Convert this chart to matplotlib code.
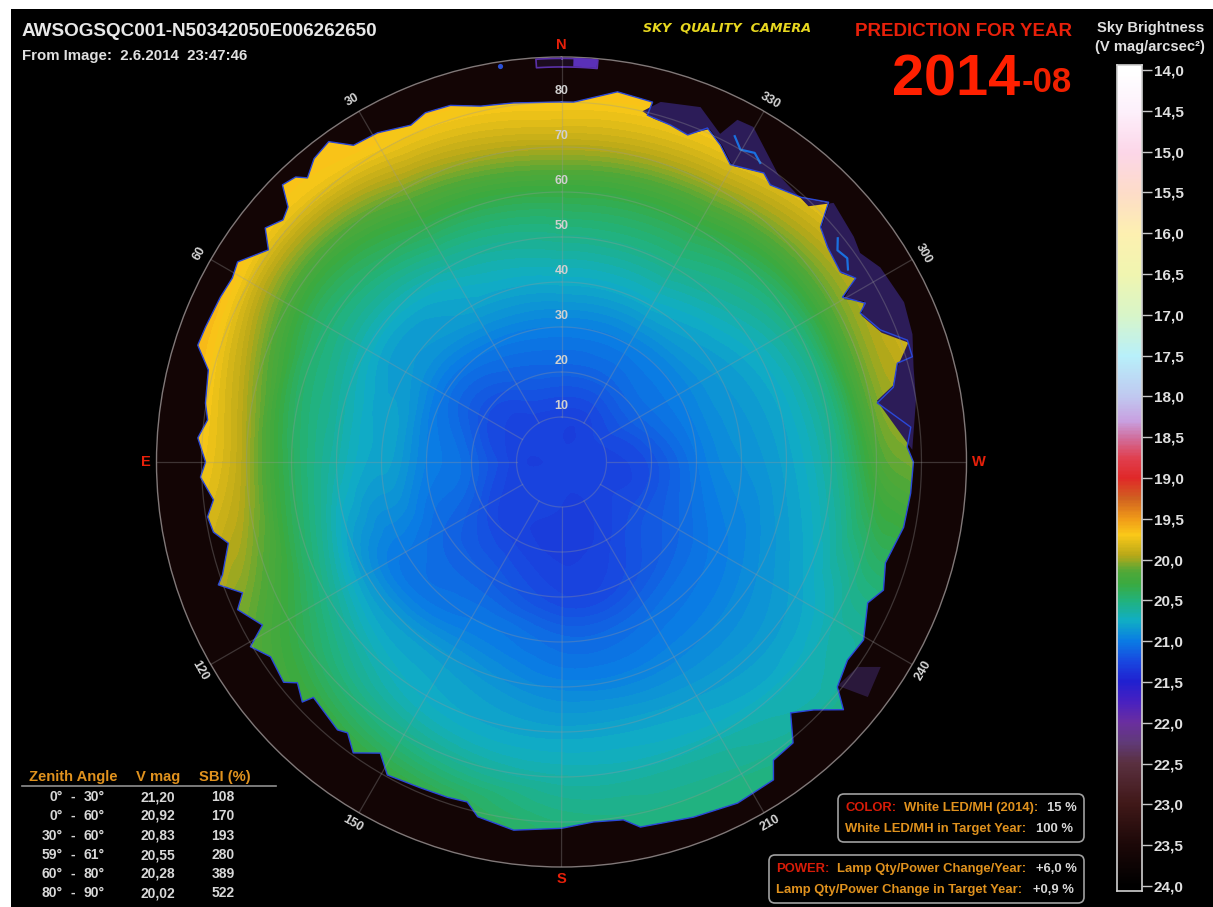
import numpy as np
import matplotlib
matplotlib.use("Agg")
import matplotlib.pyplot as plt
from matplotlib.colors import LinearSegmentedColormap, Normalize
from matplotlib.patches import FancyBboxPatch, Rectangle
from matplotlib.tri import Triangulation, UniformTriRefiner

W, H = 1213, 907
plt.rcParams['font.family'] = ['Liberation Sans', 'DejaVu Sans']
plt.rcParams['font.weight'] = 'bold'

# ---------- data ----------
TITLE = "AWSOGSQC001-N50342050E006262650"
SUBTITLE = "From Image:  2.6.2014  23:47:46"
ZENITH = [0, 10, 20, 30, 40, 50, 60, 70, 80, 90]
AZIMUTH = [-30, 0, 30, 60, 90, 120, 150, 180, 210, 240, 270, 300, 330, 360, 390]
az000 = [21.27, 21.28, 21.12, 20.98, 20.76, 20.55, 20.30, 19.95, 19.70, 19.70]
az030 = [21.27, 21.28, 21.15, 21.00, 20.80, 20.63, 20.36, 20.05, 19.74, 19.70]
az060 = [21.27, 21.28, 21.20, 21.03, 20.85, 20.70, 20.48, 20.18, 19.80, 19.72]
az090 = [21.27, 21.28, 21.10, 20.98, 20.80, 20.65, 20.40, 19.98, 19.72, 19.70]
az120 = [21.27, 21.28, 21.20, 21.10, 21.02, 20.85, 20.55, 20.30, 20.12, 20.10]
az150 = [21.27, 21.28, 21.27, 21.15, 21.02, 20.85, 20.75, 20.55, 20.28, 20.20]
az180 = [21.27, 21.30, 21.31, 21.25, 21.08, 20.95, 20.80, 20.65, 20.50, 20.45]
az210 = [21.27, 21.30, 21.27, 21.20, 21.05, 20.95, 20.82, 20.68, 20.55, 20.50]
az240 = [21.27, 21.28, 21.20, 21.10, 21.00, 20.90, 20.80, 20.65, 20.55, 20.50]
az270 = [21.27, 21.28, 21.20, 21.02, 20.90, 20.80, 20.60, 20.20, 20.05, 20.00]
az300 = [21.27, 21.25, 21.10, 20.98, 20.85, 20.72, 20.50, 20.10, 19.85, 19.75]
az330 = [21.27, 21.28, 21.12, 20.98, 20.76, 20.55, 20.33, 20.00, 19.72, 19.70]
RING_VALUE = 23.65

HORIZON_AZ = [0, 7.6, 12.8, 17.3, 21.3, 24.1, 29.2, 33.3, 36, 39.2, 41.8, 43, 45.2, 47, 49, 51.7, 54.1, 58.3,
              60.8, 64.2, 69.2, 72.2, 75.4, 80.6, 83.2, 86.2, 90, 92.4, 96.2, 98.8, 101.4, 103.7, 108.4, 109.7,
              112.3, 114.5, 118.6, 120.7, 123.8, 128.4, 129.9, 132.8, 133.5, 140.1, 141.7, 144.4, 148.1, 150.9,
              156.6, 161.2, 164.5, 166.7, 172.6, 180, 185.1, 189.8, 192.2, 200.4, 207.3, 210.1, 213.7, 215.4,
              219.5, 222.4, 225.5, 228.7, 230.8, 235.3, 239.5, 245.3, 248.3, 252.7, 259.2, 264.9, 270, 272.5,
              275.7, 280.6, 282.7, 286.4, 286.7, 289.4, 292.5, 296.5, 297.6, 300.4, 302, 304.3, 308.9, 312.2,
              314.2, 317.9, 323, 325, 330.4, 333.4, 336.4, 338.9, 342.1, 346.1, 345.8, 351.4, 358.1, 360]
HORIZON_Z = [80, 80.5, 81.1, 83, 83.3, 82, 83.8, 84.2, 88, 87, 84.7, 86.6, 87.4, 83.1, 82, 83.9, 80.4, 84.6,
             83.8, 84.2, 84.6, 84.9, 81.1, 80.2, 79.2, 81, 79.1, 80.3, 77.8, 79.6, 78.9, 76.2, 79.4, 81,
             76.6, 79.1, 75.7, 80.4, 77.8, 78.8, 76.5, 78.5, 76, 77.6, 76.7, 79.5, 76.2, 79.6,
             78.9, 78.7, 78.4, 81, 82.5, 81.4, 80.3, 80.7, 83, 84.2, 85.3, 85, 84.9, 81.3,
             80.9, 75.5, 78.6, 83.4, 79.1, 77.3, 77.9, 74.9, 77, 75.4, 77.4, 77.9, 78.2, 76.9,
             78, 71.4, 75.6, 77.8, 81.4, 81.5, 76.7, 74.2, 76.2, 72.4, 77.1, 75, 76, 77.7,
             82.8, 79.3, 77.1, 78.4, 76, 78.8, 81, 77.9, 78.7, 79.4, 82.5, 83.2, 80, 80]
FRINGE_AZ = [272, 280, 285, 290, 295, 301.4, 305, 307.6, 313.6, 316, 323, 330.2, 332.8, 334.2, 338.6, 344.6, 347,
             345, 342, 339, 336, 333, 330, 325, 323, 318, 314, 312, 309, 304, 302, 300, 298, 296, 292, 289, 286, 283, 281]
FRINGE_Z = [78, 80, 81, 83, 84, 83, 81, 82, 83.5, 79, 80, 85.8, 85.5, 81, 84.7, 83, 80,
            79, 78.7, 77.9, 81, 78.8, 76, 78.4, 77.1, 79.3, 82.8, 77.7, 76, 75, 77.1, 72.4, 76.2, 74.2, 76.7, 81.5, 77.8, 75.6, 71.4]
FRINGE2_AZ = [231, 232.5, 237.3, 235.3]
FRINGE2_Z = [79, 85.8, 84.3, 80]
VEIN_AZ = [326.4, 328, 330.2, 332]
VEIN_Z = [79.8, 81, 80, 82]
VEIN2_AZ = [303.9, 305.5, 307.5, 309]
VEIN2_Z = [76.7, 78, 77.3, 79]
SPOT_AZ = 8.8
SPOT_Z = 89
MASK_AZ = [3.7, -1.7, -5.1]
MASK_Z = [87.9, 89.8]

RINGS = [10, 20, 30, 40, 50, 60, 70, 80]
SPOKES = [0, 30, 60, 90, 120, 150, 180, 210, 240, 270, 300, 330]
AZ_LABELS = [30, 60, 120, 150, 210, 240, 300, 330]

CBAR_TICKS = [14.0, 14.5, 15.0, 15.5, 16.0, 16.5, 17.0, 17.5, 18.0, 18.5, 19.0, 19.5, 20.0, 20.5, 21.0, 21.5, 22.0, 22.5, 23.0, 23.5, 24.0]
CMAP_VALUES = [14.0, 14.5, 15.0, 15.5, 16.0, 16.5, 17.0, 17.5, 18.0, 18.3, 18.5, 18.75, 19.0, 19.25, 19.5, 19.7, 19.95, 20.15,
               20.3, 20.5, 20.75, 21.0, 21.25, 21.5, 21.75, 22.0, 22.25, 22.5, 23.0, 23.5, 24.0]
CMAP_COLORS = ['#ffffff', '#fdf0fb', '#fcd6e8', '#fddcc8', '#fdf0b0', '#f0f5b0', '#d8f5c8', '#b8f0fa', '#c0c8f0', '#c8a0e0',
               '#d070a0', '#e04050', '#e02828', '#d06020', '#f09a18', '#fac818', '#b8a818', '#50a838', '#3aaa40', '#22b27a',
               '#10aec4', '#0a7ce4', '#1848e0', '#2020d0', '#4820c0', '#6a2ea0', '#603a78', '#5a3040', '#401818', '#1c0808', '#000000']

TABLE_HEAD = ["Zenith Angle", "V mag", "SBI (%)"]
TABLE_FROM = ["0°", "0°", "30°", "59°", "60°", "80°"]
TABLE_TO = ["30°", "60°", "60°", "61°", "80°", "90°"]
TABLE_VMAG = ["21,20", "20,92", "20,83", "20,55", "20,28", "20,02"]
TABLE_SBI = ["108", "170", "193", "280", "389", "522"]

ORANGE = '#e0921e'
RED = '#e8200a'
GREY = '#d8d8d8'

# ---------- figure ----------
fig = plt.figure(figsize=(W / 100, H / 100), dpi=100, facecolor='white')
fig.add_artist(Rectangle((11 / W, 0), 1, 1 - 9 / H, transform=fig.transFigure, facecolor='black', edgecolor='none', zorder=-5))


def T(x, y, s, size=9, color=GREY, ha='left', va='center', **kw):
    return fig.text(x / W, 1 - y / H, s, fontsize=size, color=color, ha=ha, va=va, **kw)


vmin, vmax = 14.0, 24.0
norm = Normalize(vmin, vmax)
cmap = LinearSegmentedColormap.from_list(
    'sqc', [((v - vmin) / (vmax - vmin), c) for v, c in zip(CMAP_VALUES, CMAP_COLORS)], N=1024)

# ---------- polar sky map ----------
cx, cy, R = 561.5, 462, 405
ax = fig.add_axes([(cx - R) / W, 1 - (cy + R) / H, 2 * R / W, 2 * R / H], projection='polar')
ax.set_theta_zero_location('N')
ax.set_theta_direction(1)
ax.set_rlim(0, 90)
ax.set_xticks([])
ax.set_yticks([])
ax.set_facecolor(cmap(norm(RING_VALUE)))
ax.spines['polar'].set_color('#807878')
ax.spines['polar'].set_linewidth(1.0)

columns = [az330, az000, az030, az060, az090, az120, az150, az180, az210, az240, az270, az300, az330, az000, az030]
field = np.array(columns)
TH, ZZ = np.meshgrid(np.radians(AZIMUTH), ZENITH, indexing='ij')
tri = Triangulation(TH.ravel(), np.asarray(ZZ, float).ravel())
fine_tri, fine_field = UniformTriRefiner(tri).refine_field(field.ravel(), subdiv=4)
levels = np.arange(19.5, 21.65, 0.04)
cs = ax.tricontourf(fine_tri, fine_field, levels=levels, cmap=cmap, norm=norm, extend='both', antialiased=False, zorder=1)
clip = ax.fill(np.radians(HORIZON_AZ), HORIZON_Z, facecolor='none', edgecolor='none', zorder=0)[0]
cs.set_clip_path(clip)

ax.fill(np.radians(FRINGE_AZ), FRINGE_Z, facecolor='#2c1c58', edgecolor='none', zorder=2)
ax.fill(np.radians(FRINGE2_AZ), FRINGE2_Z, facecolor='#3a2560', edgecolor='none', alpha=0.6, zorder=2)
ax.plot(np.radians(VEIN_AZ), VEIN_Z, color='#1a70e0', lw=1.6, zorder=3)
ax.plot(np.radians(VEIN2_AZ), VEIN2_Z, color='#1a70e0', lw=1.6, zorder=3)
ax.plot(np.radians(HORIZON_AZ), HORIZON_Z, color='#2a48d8', lw=1.0, zorder=3)

ax.fill_between(np.radians(np.linspace(MASK_AZ[0], MASK_AZ[2], 20)), MASK_Z[0], MASK_Z[1],
                facecolor='#1c0c20', edgecolor='#5a30a8', lw=1.2, zorder=3)
ax.fill_between(np.radians(np.linspace(MASK_AZ[1], MASK_AZ[2], 10)), MASK_Z[0], MASK_Z[1],
                facecolor='#5a30b8', edgecolor='none', zorder=4)
ax.scatter(np.radians([SPOT_AZ]), [SPOT_Z], s=14, color='#2a50d8', linewidths=0, zorder=3)

grid_col = (0.6, 0.6, 0.6, 0.32)
th = np.radians(np.linspace(0, 360, 361))
for z in RINGS:
    ax.plot(th, np.full_like(th, z), color=grid_col, lw=0.9, zorder=5)
for a in SPOKES:
    ax.plot(np.radians([a, a]), [RINGS[0], 90], color=grid_col, lw=0.9, zorder=5)
for z in RINGS:
    ax.text(0, z + 2.4, str(z), color='#d0d0d0', fontsize=9, ha='center', va='center', zorder=6)
for a in AZ_LABELS:
    rot = a if a < 90 else (a - 180 if a < 270 else a - 360)
    ax.text(np.radians(a), 92.8, str(a), color='#d8d8d8', fontsize=9, ha='center', va='center',
            rotation=rot, rotation_mode='anchor', clip_on=False, zorder=6)
ax.grid(False)

T(561, 45, "N", 10.5, RED, ha='center')
T(561, 879, "S", 10.5, RED, ha='center')
T(146, 462, "E", 10.5, RED, ha='center')
T(979, 462, "W", 10.5, RED, ha='center')

# ---------- header ----------
T(22, 31, TITLE, 13.6, '#e8e8e8')
T(22, 56, SUBTITLE, 10.85, '#e0e0e0')
T(643, 28, "SKY  QUALITY  CAMERA", 9.2, '#e8d820', family='DejaVu Sans', style='oblique')
T(1072, 31, "PREDICTION FOR YEAR", 13.5, '#e8200a', ha='right')
T(1020, 81, "2014", 41.5, '#ff2000', ha='right')
T(1072, 83, "-08", 25, '#f02000', ha='right')
T(1151, 28, "Sky Brightness", 10.6, '#e0e0e0', ha='center')
T(1150, 47, "(V mag/arcsec²)", 10.6, '#e0e0e0', ha='center')

# ---------- colour bar ----------
cax = fig.add_axes([1117 / W, 1 - 891 / H, 25 / W, 826 / H])
grad = np.linspace(13.94, 24.06, 600)
cax.pcolormesh([0, 1], np.linspace(13.94, 24.06, 601), grad[:, None], cmap=cmap, norm=norm)
cax.set_ylim(24.06, 13.94)
cax.set_xticks([])
cax.yaxis.tick_right()
cax.set_yticks(CBAR_TICKS)
cax.set_yticklabels([f"{v:.1f}".replace('.', ',') for v in CBAR_TICKS], fontsize=11, color='#e0e0e0')
cax.tick_params(axis='y', length=7, width=1, color='#c8c8c8', pad=1.5)
for s in cax.spines.values():
    s.set_color('#d0d0d0')
    s.set_linewidth(1.2)

# ---------- table ----------
T(29, 777, TABLE_HEAD[0], 10.6, ORANGE)
T(136, 777, TABLE_HEAD[1], 10.6, ORANGE)
T(199, 777, TABLE_HEAD[2], 10.6, ORANGE)
fig.add_artist(plt.Line2D([22 / W, 276 / W], [1 - 786 / H] * 2, color='#909090', lw=1.2))
rows_y = [797, 816, 836, 855, 874, 893]
for y, a, b, v, s in zip(rows_y, TABLE_FROM, TABLE_TO, TABLE_VMAG, TABLE_SBI):
    T(63, y, a, 10, ha='right')
    T(73, y, "-", 10, ha='center')
    T(105, y, b, 10, ha='right')
    T(158, y, v, 10, ha='center')
    T(223, y, s, 10, ha='center')

# ---------- boxes ----------
for x0, y0, x1, y1 in [(838, 794, 1084, 842), (769, 855, 1084, 903)]:
    fig.add_artist(FancyBboxPatch((x0, H - y1), x1 - x0, y1 - y0, boxstyle='round,pad=0,rounding_size=6',
                                  transform=None, facecolor='black', edgecolor='#a0a0a0', lw=1.2))
S = 9.4
T(845, 808, "COLOR:", S, '#d81c08')
T(904, 808, "White LED/MH (2014):", S, ORANGE)
T(1077, 808, "15 %", S, GREY, ha='right')
T(845, 829, "White LED/MH in Target Year:", S, ORANGE)
T(1073, 829, "100 %", S, GREY, ha='right')
T(776, 869, "POWER:", S, '#d81c08')
T(837, 869, "Lamp Qty/Power Change/Year:", S, ORANGE)
T(1077, 869, "+6,0 %", S, GREY, ha='right')
T(776, 890, "Lamp Qty/Power Change in Target Year:", S, ORANGE)
T(1074, 890, "+0,9 %", S, GREY, ha='right')

fig.savefig("out.png", dpi=100, facecolor='white')
